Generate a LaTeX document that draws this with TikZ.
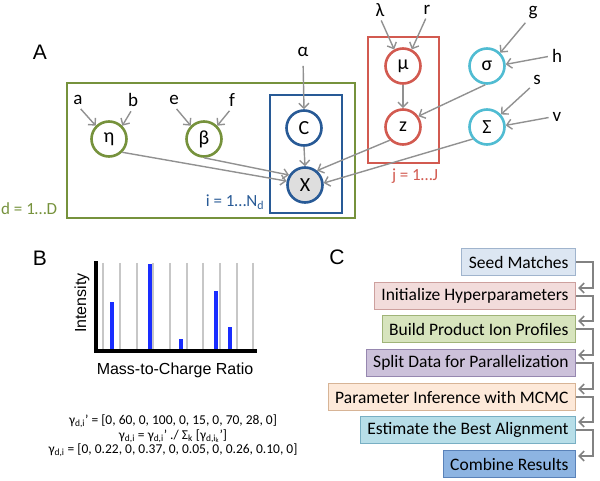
\documentclass[tikz,border=0pt]{standalone}
\usepackage{fontspec}
\setmainfont{Carlito}
\newfontfamily\helv{Liberation Sans}
\usetikzlibrary{arrows.meta,calc}
\definecolor{cgreen}{RGB}{118,146,60}
\definecolor{cblue}{RGB}{40,90,150}
\definecolor{cred}{RGB}{210,90,80}
\definecolor{ccyan}{RGB}{80,188,210}
\definecolor{agray}{RGB}{145,145,145}
\definecolor{xfill}{RGB}{222,222,222}
\definecolor{barblue}{RGB}{25,45,255}
\definecolor{f1}{RGB}{220,230,242}\definecolor{d1}{RGB}{160,180,205}
\definecolor{f2}{RGB}{242,220,219}\definecolor{d2}{RGB}{205,160,158}
\definecolor{f3}{RGB}{215,228,189}\definecolor{d3}{RGB}{160,180,120}
\definecolor{f4}{RGB}{204,193,218}\definecolor{d4}{RGB}{150,135,175}
\definecolor{f5}{RGB}{253,233,217}\definecolor{d5}{RGB}{215,180,150}
\definecolor{f6}{RGB}{183,222,232}\definecolor{d6}{RGB}{120,175,195}
\definecolor{f7}{RGB}{141,180,226}\definecolor{d7}{RGB}{90,130,185}
\begin{document}
\begin{tikzpicture}[x=1pt,y=-1pt,
  circ/.style={circle, minimum size=35pt, inner sep=0pt, line width=2.6pt, fill=white, font=\fontsize{20}{22}\selectfont},
  lbl/.style={font=\fontsize{19}{21}\selectfont, inner sep=1pt},
  plate/.style={line width=2.8pt},
  platelbl/.style={font=\fontsize{17}{19}\selectfont, inner sep=0pt},
  arr/.style={draw=agray, line width=1.4pt, -{Straight Barb[length=5pt,width=10pt]}},
  panel/.style={font=\helv\fontsize{21}{23}\selectfont, inner sep=0pt},
  stepbox/.style={anchor=east, minimum height=27pt, inner xsep=7pt, inner ysep=0pt, line width=1pt, font=\fontsize{17.5}{19}\selectfont},
  carr/.style={draw=agray!90!black, line width=1.6pt, shorten >=2pt, -{Straight Barb[length=5pt,width=10pt]}},
  gline/.style={draw=black!22, line width=1.1pt},
  bar/.style={draw=barblue, line width=3.2pt}
]
\useasboundingbox (0,0) rectangle (600,481);

% ---------------- Panel A ----------------
\node[panel] (pA) at (40,52) {A};
\draw[plate, cgreen] (67,83) rectangle (355,218);
\draw[plate, cblue] (270,95) rectangle (342,213);
\draw[plate, cred] (368,37) rectangle (439,163);

\node[platelbl, text=cgreen, anchor=west] (dlbl) at (1,209) {d = 1…D};
\node[platelbl, text=cblue] (ilbl) at (235,202) {i = 1…N\textsubscript{d}};
\node[platelbl, text=cred] (jlbl) at (415,176) {j = 1…J};

\node[circ, draw=cgreen] (eta) at (109,139) {η};
\node[circ, draw=cgreen] (beta) at (204,139) {β};
\node[circ, draw=cblue] (C) at (304,128) {C};
\node[circ, draw=cblue, fill=xfill] (X) at (305,185) {X};
\node[circ, draw=cred] (mu) at (403,66) {μ};
\node[circ, draw=cred] (z) at (403,127) {z};
\node[circ, draw=ccyan] (sigma) at (487,66) {σ};
\node[circ, draw=ccyan] (Sig) at (487,127) {Σ};

\node[lbl] (a) at (78,100) {a};
\node[lbl] (b) at (133,100) {b};
\node[lbl] (e) at (174,100) {e};
\node[lbl] (f) at (232,100) {f};
\node[lbl] (alpha) at (303,52) {α};
\node[lbl] (lam) at (380,10) {λ};
\node[lbl] (r) at (427,10) {r};
\node[lbl] (g) at (533,13) {g};
\node[lbl] (h) at (557,56) {h};
\node[lbl] (s) at (537,80) {s};
\node[lbl] (v) at (557,117) {v};

\draw[arr, shorten <=4pt] (a.south) -- (eta.135);
\draw[arr, shorten <=4pt] (b.south) -- (eta.45);
\draw[arr, shorten <=4pt] (e.south) -- (beta.135);
\draw[arr, shorten <=4pt] (f.south) -- (beta.45);
\draw[arr, shorten <=8pt] (alpha.south) -- (C.north);
\draw[arr] (C.south) -- (X.north);
\draw[arr] (eta.-45) -- (X.168);
\draw[arr] (beta.-90) -- (X.148);
\draw[arr, shorten <=3pt] (lam.south) -- (mu.118);
\draw[arr, shorten <=3pt] (r.south) -- (mu.62);
\draw[arr] (mu.south) -- (z.north);
\draw[arr, shorten <=3pt] (g.south west) -- (sigma.45);
\draw[arr, shorten <=3pt] (h.west) -- (sigma.5);
\draw[arr, shorten <=3pt] (s.south west) -- (Sig.42);
\draw[arr, shorten <=3pt] (v.west) -- (Sig.5);
\draw[arr] (sigma.-95) -- (z.35);
\draw[arr] (z.-135) -- (X.50);
\draw[arr] (Sig.-140) -- (X.6);

% ---------------- Panel B ----------------
\node[panel] (pB) at (40,258) {B};
\foreach \gx in {103,120,137,153,170,187,203,220,237,253}
  \draw[gline] (\gx,263) -- (\gx,350);
\draw[bar] (112,349) -- (112,302);
\draw[bar] (150,349) -- (150,264);
\draw[bar] (181,349) -- (181,339);
\draw[bar] (216,349) -- (216,291);
\draw[bar] (230,349) -- (230,327);
\draw[line width=4pt, line cap=rect] (96,263) -- (96,351) -- (255,351);
\node[font=\helv\fontsize{16}{18}\selectfont, rotate=90, inner sep=0pt] (ylab) at (82,303) {Intensity};
\node[font=\helv\fontsize{16}{18}\selectfont, inner sep=0pt] (xlab) at (175,370) {Mass-to-Charge Ratio};
\node[font=\fontsize{13.5}{15}\selectfont, inner sep=0pt] (eq1) at (173,421) {γ\textsubscript{d,i}’ = [0, 60, 0, 100, 0, 15, 0, 70, 28, 0]};
\node[font=\fontsize{13.5}{15}\selectfont, inner sep=0pt] (eq2) at (173,436) {γ\textsubscript{d,i} = γ\textsubscript{d,i}’ ./ Σ\textsubscript{k} [γ\textsubscript{d,i\textsubscript{k}}’]};
\node[font=\fontsize{13.5}{15}\selectfont, inner sep=0pt] (eq3) at (173,450) {γ\textsubscript{d,i} = [0, 0.22, 0, 0.37, 0, 0.05, 0, 0.26, 0.10, 0]};

% ---------------- Panel C ----------------
\node[panel] (pC) at (337,257) {C};
\node[stepbox, fill=f1, draw=d1] (s1) at (576,262) {Seed Matches};
\node[stepbox, fill=f2, draw=d2] (s2) at (576,296) {Initialize Hyperparameters};
\node[stepbox, fill=f3, draw=d3] (s3) at (576,329) {Build Product Ion Profiles};
\node[stepbox, fill=f4, draw=d4] (s4) at (576,363) {Split Data for Parallelization};
\node[stepbox, fill=f5, draw=d5] (s5) at (576,397) {Parameter Inference with MCMC};
\node[stepbox, fill=f6, draw=d6] (s6) at (576,430) {Estimate the Best Alignment};
\node[stepbox, fill=f7, draw=d7] (s7) at (576,464) {Combine Results};
\foreach \p/\n in {s1/s2,s2/s3,s3/s4,s4/s5,s5/s6,s6/s7}
  \draw[carr] (\p.east) -- ++(17,0) |- ([yshift=8pt]\n.east);
\end{tikzpicture}
\end{document}
